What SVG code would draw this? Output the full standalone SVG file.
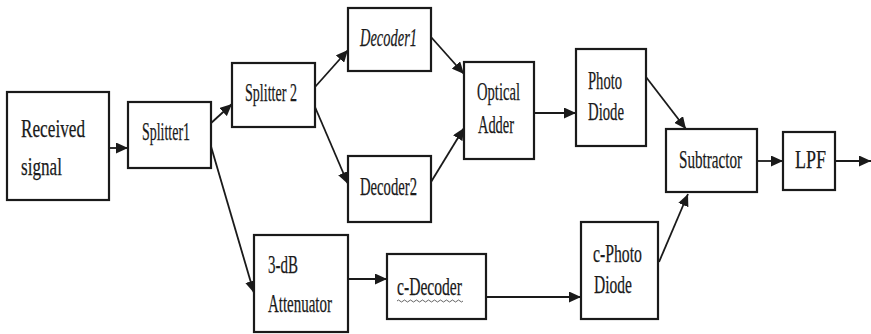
<svg xmlns="http://www.w3.org/2000/svg" width="871" height="334" viewBox="0 0 871 334">
  <style>
    .box { fill: #ffffff; stroke: #1a1a1a; stroke-width: 2.2; }
    .lbl { font-family: "Liberation Serif", "Times New Roman", "DejaVu Serif", serif; font-size: 26px; fill: #1a1a1a; stroke: #1a1a1a; stroke-width: 0.25; }
    .it { font-style: italic; }
    .wire { fill: none; stroke: #1a1a1a; stroke-width: 1.8; marker-end: url(#head); }
  </style>
  <defs>
    <marker id="head" markerUnits="userSpaceOnUse" markerWidth="13" markerHeight="11" refX="12" refY="5.5" orient="auto">
      <path d="M0,0 L12,5.5 L0,11 Z" fill="#1a1a1a"/>
    </marker>
  </defs>
  <rect width="871" height="334" fill="#ffffff"/>

  <!-- connectors -->
  <g id="connectors">
    <line class="wire" x1="109" y1="148" x2="128" y2="148"/>
    <line class="wire" x1="210" y1="124" x2="232" y2="104"/>
    <line class="wire" x1="315" y1="87" x2="348" y2="50"/>
    <line class="wire" x1="315" y1="107" x2="348" y2="184"/>
    <line class="wire" x1="431" y1="37" x2="464" y2="74"/>
    <line class="wire" x1="431" y1="182" x2="464" y2="128"/>
    <line class="wire" x1="534" y1="113" x2="576" y2="113"/>
    <line class="wire" x1="646" y1="77" x2="686" y2="129"/>
    <line class="wire" x1="757" y1="161" x2="783" y2="161"/>
    <line class="wire" x1="835" y1="161" x2="871" y2="161"/>
    <line class="wire" x1="210" y1="143" x2="254" y2="293"/>
    <line class="wire" x1="348" y1="279" x2="387" y2="279"/>
    <line class="wire" x1="486" y1="297" x2="581" y2="297"/>
    <line class="wire" x1="659" y1="262" x2="688" y2="194"/>
  </g>

  <g id="received">
    <rect class="box" x="7" y="92" width="102" height="108"/>
    <text class="lbl" x="21" y="137" textLength="64" lengthAdjust="spacingAndGlyphs" font-size="30">Received</text>
    <text class="lbl" x="21" y="175" textLength="41" lengthAdjust="spacingAndGlyphs" font-size="30">signal</text>
  </g>

  <g id="splitter1">
    <rect class="box" x="128" y="102" width="83" height="66"/>
    <text class="lbl" x="142" y="140" textLength="48" lengthAdjust="spacingAndGlyphs">Splitter1</text>
  </g>

  <g id="splitter2">
    <rect class="box" x="232" y="63" width="83" height="64"/>
    <text class="lbl" x="245" y="101" textLength="52" lengthAdjust="spacingAndGlyphs">Splitter 2</text>
  </g>

  <g id="decoder1">
    <rect class="box" x="348" y="8" width="83" height="63"/>
    <text class="lbl it" x="360" y="46" textLength="57" lengthAdjust="spacingAndGlyphs">Decoder1</text>
  </g>

  <g id="decoder2">
    <rect class="box" x="348" y="156" width="83" height="66"/>
    <text class="lbl" x="360" y="195" textLength="57" lengthAdjust="spacingAndGlyphs">Decoder2</text>
  </g>

  <g id="optical-adder">
    <rect class="box" x="464" y="62" width="70" height="97"/>
    <text class="lbl" x="477" y="100" textLength="43" lengthAdjust="spacingAndGlyphs">Optical</text>
    <text class="lbl" x="478" y="133" textLength="36" lengthAdjust="spacingAndGlyphs">Adder</text>
  </g>

  <g id="photo-diode">
    <rect class="box" x="576" y="49" width="70" height="97"/>
    <text class="lbl" x="588" y="89" textLength="34" lengthAdjust="spacingAndGlyphs" font-size="28">Photo</text>
    <text class="lbl" x="588" y="120" textLength="36" lengthAdjust="spacingAndGlyphs" font-size="28">Diode</text>
  </g>

  <g id="subtractor">
    <rect class="box" x="666" y="129" width="91" height="63"/>
    <text class="lbl" x="679" y="168" textLength="63" lengthAdjust="spacingAndGlyphs" font-size="28">Subtractor</text>
  </g>

  <g id="lpf">
    <rect class="box" x="783" y="132" width="52" height="58"/>
    <text class="lbl" x="795" y="168" textLength="31" lengthAdjust="spacingAndGlyphs" font-size="28">LPF</text>
  </g>

  <g id="attenuator">
    <rect class="box" x="254" y="235" width="94" height="97"/>
    <text class="lbl" x="268" y="273" textLength="30" lengthAdjust="spacingAndGlyphs">3-dB</text>
    <text class="lbl" x="268" y="312" textLength="64" lengthAdjust="spacingAndGlyphs">Attenuator</text>
  </g>

  <g id="c-decoder">
    <rect class="box" x="387" y="254" width="99" height="65"/>
    <text class="lbl" x="397" y="295" textLength="65" lengthAdjust="spacingAndGlyphs">c-Decoder</text>
    <!-- wavy underline under the label -->
    <path d="M397,301 q1.5,-2 3,0 t3,0 t3,0 t3,0 t3,0 t3,0 t3,0 t3,0 t3,0 t3,0 t3,0 t3,0 t3,0 t3,0 t3,0 t3,0 t3,0 t3,0 t3,0 t3,0 t3,0 t3,0" fill="none" stroke="#555555" stroke-width="0.9"/>
  </g>

  <g id="c-photo-diode">
    <rect class="box" x="581" y="222" width="77" height="97"/>
    <text class="lbl" x="593" y="262" textLength="49" lengthAdjust="spacingAndGlyphs">c-Photo</text>
    <text class="lbl" x="594" y="293" textLength="38" lengthAdjust="spacingAndGlyphs">Diode</text>
  </g>
</svg>
